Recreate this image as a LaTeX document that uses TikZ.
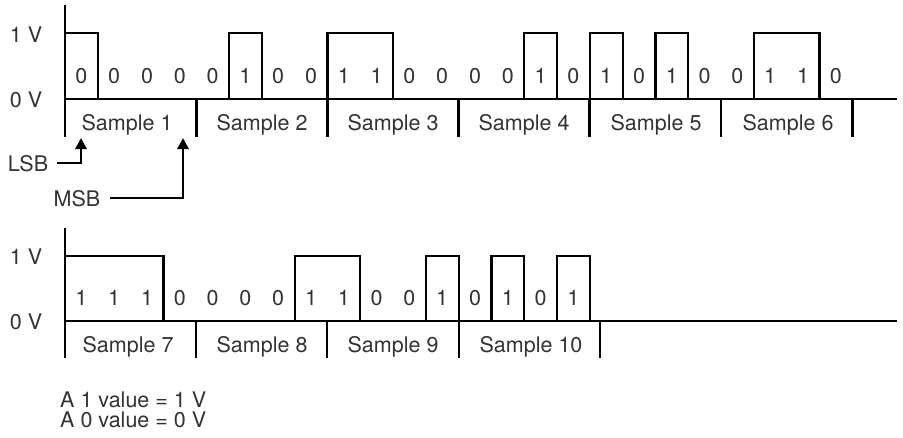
\documentclass[tikz,border=0pt]{standalone}
\usepackage{fontspec}
\setmainfont{TeX Gyre Heros}
\usetikzlibrary{arrows.meta,positioning}
\tikzset{
    % thick lines of the two time axes
    axisline/.style={line width=2.8pt, black},
    pulse/.style={line width=2.2pt, black},
    sampletick/.style={line width=2.8pt, black},
    bitlabel/.style={font=\fontsize{21.5}{25}\selectfont, text=black!80, inner sep=0pt},
    ptr/.style={
        line width=2.8pt,
        black,
        -{Triangle[length=11pt, width=11pt]}
    }
}
\newcommand{\bw}{32.8}

\begin{document}
\begin{tikzpicture}[x=1pt, y=-1pt]
        \useasboundingbox (0,0) rectangle (903,437);

        % ---- first line : samples 1 to 6
        \draw[axisline] (65,5) to (65,137);
        \draw[axisline] (65,99) to (897,99);
        \node[bitlabel] (v1a) at (26,35) {1 V};
        \node[bitlabel] (v0a) at (26,100) {0 V};

        \foreach \s/\n in {0/1,5/1,8/2,14/1,16/1,18/1,21/2}
            \draw[pulse] ({65+\s*\bw},99) rectangle ({65+(\s+\n)*\bw},33);
        \foreach \b [count=\i from 0] in {0,0,0,0,0,1,0,0,1,1,0,0,0,0,1,0,1,0,1,0,0,1,1,0}
            \node[bitlabel] (ta\i) at ({65+(\i+0.5)*\bw},76) {\b};
        \foreach \k/\cx in {1/127,2/262,3/393,4/524,5/656,6/788}{
            \draw[sampletick] ({65+4*\k*\bw},99) to ++(0,38);
            \node[bitlabel] (sa\k) at (\cx,125) {Sample \k};
        }

        \node[bitlabel] (lsb) at (28,164) {LSB};
        \node[bitlabel] (msb) at (77,199) {MSB};
        \coordinate (lsbtip) at (81,138);
        \coordinate (msbtip) at (183,138);
        \draw[ptr] ([xshift=9pt,yshift=1pt]lsb.east) -| (lsbtip);
        \draw[ptr] ([xshift=10pt,yshift=1pt]msb.east) -| (msbtip);

        % ---- second line : samples 7 to 10
        \draw[axisline] (65,228) to (65,358);
        \draw[axisline] (65,321) to (897,321);
        \node[bitlabel] (v1b) at (26,257) {1 V};
        \node[bitlabel] (v0b) at (26,322) {0 V};

        \foreach \s/\n in {0/3,7/2,11/1,13/1,15/1}
            \draw[pulse] ({65+\s*\bw},321) rectangle ({65+(\s+\n)*\bw},256);
        \foreach \b [count=\i from 0] in {1,1,1,0,0,0,0,1,1,0,0,1,0,1,0,1}
            \node[bitlabel] (tb\i) at ({65+(\i+0.5)*\bw},298) {\b};
        \foreach \tx/\cx/\k in {196/128/7,327/262/8,459/393/9,600/531/10}{
            \draw[sampletick] (\tx,321) to ++(0,37);
            \node[bitlabel] (sb\k) at (\cx,347) {Sample \k};
        }

        \node[bitlabel, anchor=west] (one) at (60,400) {A 1 value = 1 V};
        \node[bitlabel, anchor=west] (zero) at (60,420) {A 0 value = 0 V};

\end{tikzpicture}
\end{document}
